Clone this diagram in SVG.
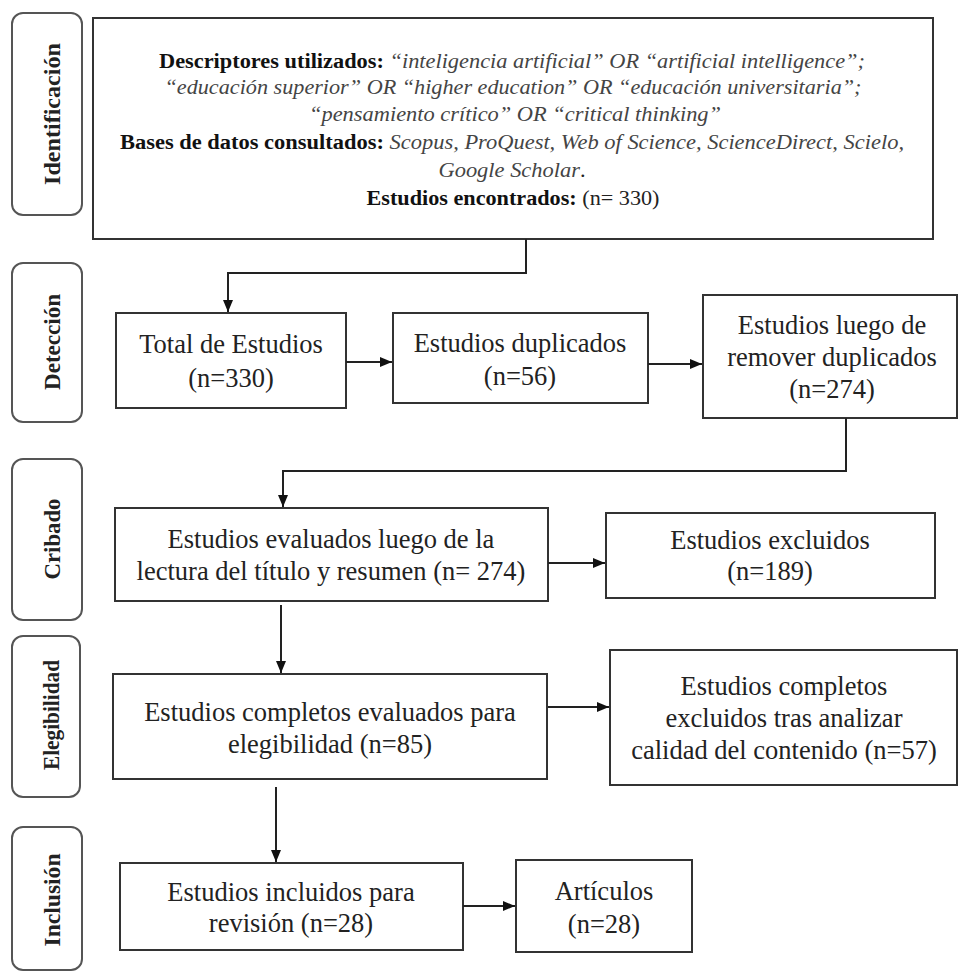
<svg xmlns="http://www.w3.org/2000/svg" width="958" height="974" viewBox="0 0 958 974">
<style>
.side{fill:#fff;stroke:#555;stroke-width:2}
.box{fill:#fff;stroke:#333;stroke-width:2}
.lbl{font-family:"Liberation Serif","Times New Roman",serif;font-weight:bold;font-size:23px;fill:#222;text-anchor:middle}
.t{font-family:"Liberation Serif","Times New Roman",serif;font-size:26.5px;fill:#222;text-anchor:middle}
.s{font-family:"Liberation Serif","Times New Roman",serif;font-size:20px;fill:#222;text-anchor:middle}
.b{font-weight:bold;fill:#111}
.i{font-style:italic;fill:#444}
.c{fill:none;stroke:#222;stroke-width:2}
</style>
<defs>
<marker id="ah" markerUnits="userSpaceOnUse" markerWidth="12" markerHeight="10" refX="12" refY="5" orient="auto">
<path d="M0,0 L12,5 L0,10 z" fill="#111"/>
</marker>
</defs>

<g id="phase-identificacion">
<rect class="side" x="12" y="13" width="70" height="202" rx="11"/>
<text class="lbl" x="60" y="114" transform="rotate(-90 60 114)" textLength="142" lengthAdjust="spacingAndGlyphs">Identificación</text>
</g>
<g id="phase-deteccion">
<rect class="side" x="12" y="263" width="70" height="159" rx="11"/>
<text class="lbl" x="60" y="342" transform="rotate(-90 60 342)" textLength="96" lengthAdjust="spacingAndGlyphs">Detección</text>
</g>
<g id="phase-cribado">
<rect class="side" x="12" y="459" width="70" height="161" rx="11"/>
<text class="lbl" x="60" y="539" transform="rotate(-90 60 539)" textLength="81" lengthAdjust="spacingAndGlyphs">Cribado</text>
</g>
<g id="phase-elegibilidad">
<rect class="side" x="12" y="636" width="68" height="161" rx="11"/>
<text class="lbl" x="59" y="715" transform="rotate(-90 59 715)" textLength="110" lengthAdjust="spacingAndGlyphs">Elegibilidad</text>
</g>
<g id="phase-inclusion">
<rect class="side" x="12" y="827" width="70" height="143" rx="11"/>
<text class="lbl" x="60" y="900" transform="rotate(-90 60 900)" textLength="93" lengthAdjust="spacingAndGlyphs">Inclusión</text>
</g>

<g id="n-identificacion">
<rect class="box" x="93" y="18" width="840" height="221"/>
<text class="s" x="512" y="68" textLength="706" lengthAdjust="spacingAndGlyphs"><tspan class="b">Descriptores utilizados: </tspan><tspan class="i">“inteligencia artificial” OR “artificial intelligence”;</tspan></text>
<text class="s" x="513" y="94" textLength="697" lengthAdjust="spacingAndGlyphs"><tspan class="i">“educación superior” OR “higher education” OR “educación universitaria”;</tspan></text>
<text class="s" x="515" y="121" textLength="412" lengthAdjust="spacingAndGlyphs"><tspan class="i">“pensamiento crítico” OR “critical thinking”</tspan></text>
<text class="s" x="512" y="149" textLength="784" lengthAdjust="spacingAndGlyphs"><tspan class="b">Bases de datos consultados: </tspan><tspan class="i">Scopus, ProQuest, Web of Science, ScienceDirect, Scielo,</tspan></text>
<text class="s" x="512" y="177" textLength="147" lengthAdjust="spacingAndGlyphs"><tspan class="i">Google Scholar</tspan>.</text>
<text class="s" x="513" y="205" textLength="293" lengthAdjust="spacingAndGlyphs"><tspan class="b">Estudios encontrados: </tspan>(n= 330)</text>
</g>

<g id="n-total">
<rect class="box" x="116" y="313" width="230" height="95"/>
<text class="t" x="231" y="353">Total de Estudios</text>
<text class="t" x="231" y="387">(n=330)</text>
</g>
<g id="n-duplicados">
<rect class="box" x="393" y="313" width="255" height="90"/>
<text class="t" x="520" y="352">Estudios duplicados</text>
<text class="t" x="520" y="385">(n=56)</text>
</g>
<g id="n-luego">
<rect class="box" x="703" y="295" width="254" height="123"/>
<text class="t" x="832" y="334">Estudios luego de</text>
<text class="t" x="832" y="366">remover duplicados</text>
<text class="t" x="832" y="398">(n=274)</text>
</g>
<g id="n-evaluados">
<rect class="box" x="115" y="508" width="433" height="93"/>
<text class="t" x="331" y="548">Estudios evaluados luego de la</text>
<text class="t" x="331" y="580">lectura del título y resumen (n= 274)</text>
</g>
<g id="n-excluidos">
<rect class="box" x="606" y="513" width="329" height="85"/>
<text class="t" x="770" y="549">Estudios excluidos</text>
<text class="t" x="770" y="580">(n=189)</text>
</g>
<g id="n-completos">
<rect class="box" x="113" y="674" width="434" height="105"/>
<text class="t" x="330" y="721">Estudios completos evaluados para</text>
<text class="t" x="330" y="753">elegibilidad (n=85)</text>
</g>
<g id="n-completos-excluidos">
<rect class="box" x="610" y="650" width="347" height="135"/>
<text class="t" x="784" y="695">Estudios completos</text>
<text class="t" x="784" y="727">excluidos tras analizar</text>
<text class="t" x="784" y="759">calidad del contenido (n=57)</text>
</g>
<g id="n-incluidos">
<rect class="box" x="120" y="863" width="343" height="87"/>
<text class="t" x="291" y="901">Estudios incluidos para</text>
<text class="t" x="291" y="932">revisión (n=28)</text>
</g>
<g id="n-articulos">
<rect class="box" x="516" y="860" width="176" height="92"/>
<text class="t" x="604" y="900">Artículos</text>
<text class="t" x="604" y="933">(n=28)</text>
</g>

<g id="connectors">
<path class="c" d="M526 239 V273 H228 V312" marker-end="url(#ah)"/>
<path class="c" d="M346 362 H392" marker-end="url(#ah)"/>
<path class="c" d="M648 364 H702" marker-end="url(#ah)"/>
<path class="c" d="M846 418 V471 H283 V507" marker-end="url(#ah)"/>
<path class="c" d="M548 563 H605" marker-end="url(#ah)"/>
<path class="c" d="M281 605 V673" marker-end="url(#ah)"/>
<path class="c" d="M548 707 H609" marker-end="url(#ah)"/>
<path class="c" d="M276 787 V862" marker-end="url(#ah)"/>
<path class="c" d="M463 906 H515" marker-end="url(#ah)"/>
</g>
</svg>
